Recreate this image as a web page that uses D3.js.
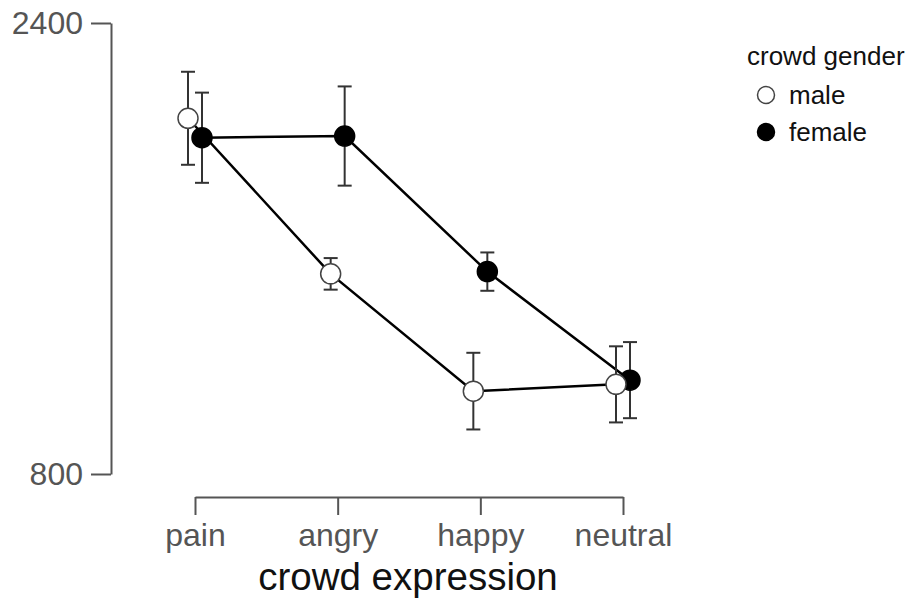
<!DOCTYPE html>
<html><head><meta charset="utf-8">
<script src="https://cdn.jsdelivr.net/npm/d3@7"></script>
<style>body{margin:0;background:#fff}svg{display:block}</style>
</head><body>
<svg id="c" width="912" height="602"></svg>
<script>
const categories = ["pain", "angry", "happy", "neutral"];
const groups = ["male", "female"];
const maleMean = [2062, 1510, 1094, 1118];
const maleErr = [165, 56, 136, 135];
const femaleMean = [1993, 1999, 1518, 1133];
const femaleErr = [160, 176, 68, 135];
const yTicks = [800, 2400];

const svg = d3.select("#c");
const font = "'Liberation Sans', Arial, Helvetica, sans-serif";
const x = d3.scalePoint().domain(categories).range([195, 623]);
const y = d3.scaleLinear().domain([800, 2400]).range([474, 23]);
const dodge = d3.scalePoint().domain(groups).range([-7, 7]);

const series = [
  {g: "male", fill: "#fff", mean: maleMean, err: maleErr},
  {g: "female", fill: "#000", mean: femaleMean, err: femaleErr}
];
const pts = [];
series.forEach(s => categories.forEach((c, i) => pts.push({g: s.g, fill: s.fill, c, v: s.mean[i], e: s.err[i]})));
const px = d => x(d.c) + dodge(d.g);

// axes
const ya = svg.append("g").attr("transform", "translate(111,0)")
  .call(d3.axisLeft(y).tickValues(yTicks).tickSize(20).tickSizeOuter(0).tickPadding(8).tickFormat(d3.format("d")));
const xa = svg.append("g").attr("transform", "translate(0,497)")
  .call(d3.axisBottom(x).tickSize(18).tickSizeOuter(0));
[ya, xa].forEach(a => {
  a.selectAll("path,line").attr("stroke", "#555").attr("stroke-width", 2);
  a.selectAll("text").attr("fill", "#555").style("font-family", font).style("font-size", "32px");
});
xa.selectAll("text").attr("y", 49).attr("dy", 0);

svg.append("text").attr("x", 408).attr("y", 590).attr("text-anchor", "middle")
  .style("font-family", font).style("font-size", "38.5px").attr("fill", "#111").text("crowd expression");

// lines
series.forEach(s => {
  const d = pts.filter(p => p.g === s.g);
  svg.append("path").datum(d)
    .attr("d", d3.line().x(px).y(p => y(p.v)))
    .attr("fill", "none").attr("stroke", "#000").attr("stroke-width", 2.5);
});

// error bars
const eb = svg.append("g").attr("stroke", "#333").attr("stroke-width", 2);
pts.forEach(d => {
  const cx = px(d);
  eb.append("line").attr("x1", cx).attr("x2", cx).attr("y1", y(d.v + d.e)).attr("y2", y(d.v - d.e));
  [d.v + d.e, d.v - d.e].forEach(v => eb.append("line").attr("x1", cx - 7).attr("x2", cx + 7).attr("y1", y(v)).attr("y2", y(v)));
});

// points (lower points drawn on top)
svg.append("g").selectAll("circle").data(pts.slice().sort((a, b) => b.v - a.v)).join("circle")
  .attr("cx", px).attr("cy", d => y(d.v)).attr("r", 10)
  .attr("fill", d => d.fill).attr("stroke", d => d.g === "male" ? "#444" : "#000").attr("stroke-width", 1.5);

// legend
const lg = svg.append("g").style("font-family", font);
lg.append("text").attr("x", 747).attr("y", 65).style("font-size", "26px").attr("fill", "#111").text("crowd gender");
series.forEach((s, i) => {
  const cy = 95 + i * 37;
  lg.append("circle").attr("cx", 766).attr("cy", cy).attr("r", 8.5)
    .attr("fill", s.fill).attr("stroke", s.g === "male" ? "#444" : "#000").attr("stroke-width", 1.5);
  lg.append("text").attr("x", 789).attr("y", cy + 9).style("font-size", "26px").attr("fill", "#111").text(s.g);
});
</script>
</body></html>
